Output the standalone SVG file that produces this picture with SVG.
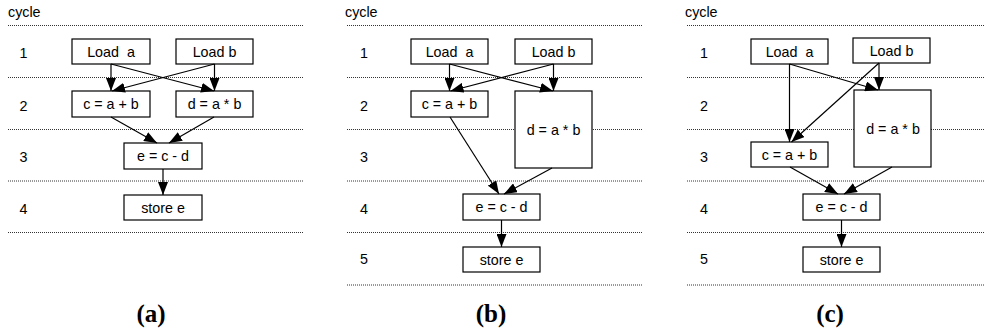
<svg xmlns="http://www.w3.org/2000/svg" width="985" height="331" viewBox="0 0 985 331">
<style>
  .box { fill: #fff; stroke: #000; stroke-width: 1.2; }
  .t { font-family: "Liberation Sans", Arial, sans-serif; font-size: 14.3px; fill: #000; }
  .c { text-anchor: middle; }
  .grid { stroke: #333; stroke-width: 1; stroke-dasharray: 1 1; fill: none; }
  .edge { stroke: #000; stroke-width: 1.2; fill: none; marker-end: url(#arr); }
  .cap { font-family: "Liberation Serif", "Times New Roman", serif; font-size: 25px; font-weight: bold; text-anchor: middle; fill: #000; }
</style>
<defs>
  <marker id="arr" viewBox="0 0 13 10" refX="13" refY="5" markerWidth="13" markerHeight="10" markerUnits="userSpaceOnUse" orient="auto">
    <path d="M0,0 L13,5 L0,10 z" fill="#000"/>
  </marker>
</defs>
<rect width="985" height="331" fill="#fff"/>

<!-- Panel (a) -->
<g id="grid-a">
  <text class="t" x="8" y="17">cycle</text>
  <path class="grid" d="M8,25.5H304 M8,77.5H304 M8,129.5H304 M8,181H304 M8,232.5H304"/>
  <text class="t" x="19.5" y="57.5">1</text>
  <text class="t" x="19.5" y="111">2</text>
  <text class="t" x="19.5" y="162">3</text>
  <text class="t" x="19.5" y="213.5">4</text>
</g>
<g id="a-loada"><rect class="box" x="72" y="39" width="78" height="25"/><text class="t c" x="111" y="56.5" xml:space="preserve">Load  a</text></g>
<g id="a-loadb"><rect class="box" x="176" y="39" width="77" height="25"/><text class="t c" x="214.5" y="56.5">Load b</text></g>
<g id="a-c"><rect class="box" x="72" y="91" width="78" height="26"/><text class="t c" x="111" y="109">c = a + b</text></g>
<g id="a-d"><rect class="box" x="176" y="91" width="77" height="26"/><text class="t c" x="214.5" y="109">d = a * b</text></g>
<g id="a-e"><rect class="box" x="124" y="143" width="78" height="26"/><text class="t c" x="163" y="161">e = c - d</text></g>
<g id="a-store"><rect class="box" x="124" y="195" width="78" height="25"/><text class="t c" x="163" y="212.5">store e</text></g>
<text class="cap" x="151" y="322">(a)</text>

<!-- Panel (b) -->
<g id="grid-b">
  <text class="t" x="345" y="17">cycle</text>
  <path class="grid" d="M347,25.5H643 M347,77.5H643 M347,129.5H643 M347,181H643 M347,232.5H643 M347,285H643"/>
  <text class="t" x="360" y="57.5">1</text>
  <text class="t" x="360" y="111">2</text>
  <text class="t" x="360" y="162">3</text>
  <text class="t" x="360" y="213.5">4</text>
  <text class="t" x="360" y="264">5</text>
</g>
<g id="b-loada"><rect class="box" x="411" y="39" width="77" height="25"/><text class="t c" x="449.5" y="56.5" xml:space="preserve">Load  a</text></g>
<g id="b-loadb"><rect class="box" x="515" y="39" width="77" height="25"/><text class="t c" x="553.5" y="56.5">Load b</text></g>
<g id="b-c"><rect class="box" x="411" y="91" width="77" height="26"/><text class="t c" x="449.5" y="109">c = a + b</text></g>
<g id="b-d"><rect class="box" x="515" y="91" width="77" height="77"/><text class="t c" x="553.5" y="135">d = a * b</text></g>
<g id="b-e"><rect class="box" x="463" y="194" width="77" height="26"/><text class="t c" x="501.5" y="212">e = c - d</text></g>
<g id="b-store"><rect class="box" x="463" y="247" width="77" height="25"/><text class="t c" x="501.5" y="264.5">store e</text></g>
<text class="cap" x="491" y="322">(b)</text>

<!-- Panel (c) -->
<g id="grid-c">
  <text class="t" x="685" y="17">cycle</text>
  <path class="grid" d="M687,25.5H984 M687,77.5H984 M687,129.5H984 M687,181H984 M687,232.5H984 M687,285H984"/>
  <text class="t" x="700" y="57.5">1</text>
  <text class="t" x="700" y="111">2</text>
  <text class="t" x="700" y="162">3</text>
  <text class="t" x="700" y="213.5">4</text>
  <text class="t" x="700" y="264">5</text>
</g>
<g id="c-loada"><rect class="box" x="751" y="39" width="77" height="25"/><text class="t c" x="789.5" y="56.5" xml:space="preserve">Load  a</text></g>
<g id="c-loadb"><rect class="box" x="853" y="38" width="77" height="25"/><text class="t c" x="891.5" y="55.5">Load b</text></g>
<g id="c-c"><rect class="box" x="751" y="142" width="77" height="25"/><text class="t c" x="789.5" y="159.5">c = a + b</text></g>
<g id="c-d"><rect class="box" x="854" y="90" width="77" height="77"/><text class="t c" x="893" y="134">d = a * b</text></g>
<g id="c-e"><rect class="box" x="803" y="194" width="77" height="26"/><text class="t c" x="841.5" y="212">e = c - d</text></g>
<g id="c-store"><rect class="box" x="803" y="247" width="77" height="25"/><text class="t c" x="841.5" y="264.5">store e</text></g>
<text class="cap" x="830" y="322">(c)</text>

<g id="connectors">
  <line class="edge" x1="111" y1="64" x2="111" y2="91"/>
  <line class="edge" x1="111" y1="64" x2="214" y2="91"/>
  <line class="edge" x1="214.5" y1="64" x2="112" y2="91"/>
  <line class="edge" x1="214.5" y1="64" x2="214.5" y2="91"/>
  <line class="edge" x1="111" y1="117" x2="157" y2="143"/>
  <line class="edge" x1="214" y1="117" x2="169" y2="143"/>
  <line class="edge" x1="163" y1="169" x2="163" y2="195"/>

  <line class="edge" x1="449.5" y1="64" x2="449.5" y2="91"/>
  <line class="edge" x1="449.5" y1="64" x2="553" y2="91"/>
  <line class="edge" x1="553.5" y1="64" x2="450.5" y2="91"/>
  <line class="edge" x1="553.5" y1="64" x2="553.5" y2="91"/>
  <line class="edge" x1="450" y1="117" x2="499" y2="194"/>
  <line class="edge" x1="552" y1="168" x2="504" y2="194"/>
  <line class="edge" x1="501.5" y1="220" x2="501.5" y2="247"/>

  <line class="edge" x1="789.5" y1="64" x2="789.5" y2="142"/>
  <line class="edge" x1="789.5" y1="64" x2="878" y2="90"/>
  <line class="edge" x1="879" y1="63" x2="879" y2="90"/>
  <line class="edge" x1="879" y1="63" x2="791.5" y2="142"/>
  <line class="edge" x1="790" y1="167" x2="838" y2="194"/>
  <line class="edge" x1="892" y1="167" x2="844" y2="194"/>
  <line class="edge" x1="841.5" y1="220" x2="841.5" y2="247"/>
</g>
</svg>
